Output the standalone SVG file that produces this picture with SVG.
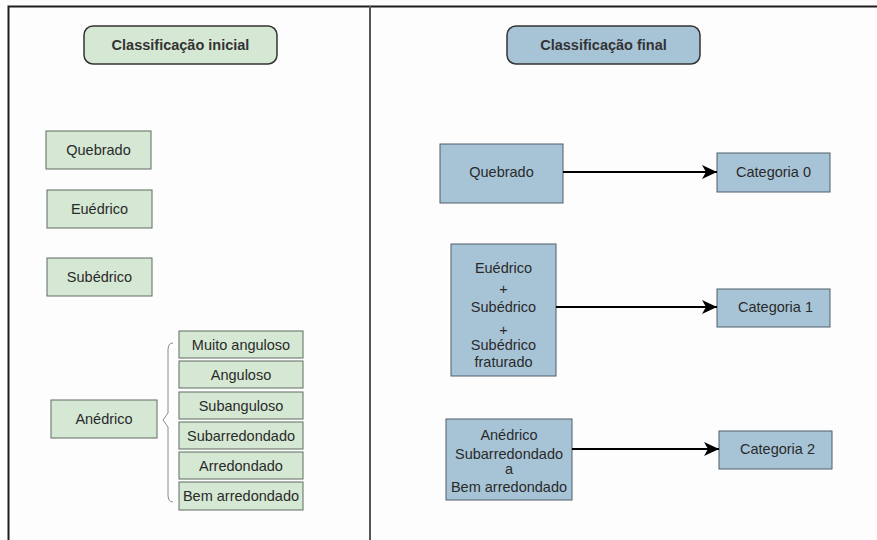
<svg xmlns="http://www.w3.org/2000/svg" width="877" height="540" viewBox="0 0 877 540">
  <defs>
    <style>
      text { font-family: "Liberation Sans", Arial, sans-serif; font-size: 14.5px; fill: #2a2a2a; text-anchor: middle; }
      .title { font-weight: bold; fill: #333; }
      .green { fill: #d5e8d4; stroke: #5f6b5f; stroke-width: 1; }
      .blue { fill: #a7c4d7; stroke: #4f5d68; stroke-width: 1; }
      .titlebox { stroke: #333; stroke-width: 1.5; }
      .frame { stroke: #1e1e1e; stroke-width: 2; fill: none; }
      .divider { stroke: #555; stroke-width: 2; fill: none; }
      .arrow { stroke: #000; stroke-width: 2; fill: none; marker-end: url(#head); }
      .brace { stroke: #8a8a8a; stroke-width: 1; fill: none; }
    </style>
    <marker id="head" markerWidth="16" markerHeight="14" refX="15" refY="7" orient="auto" markerUnits="userSpaceOnUse">
      <path d="M0,0 L15,7 L0,14 L4,7 Z" fill="#000"/>
    </marker>
  </defs>

  <rect width="877" height="540" fill="#fdfdfd"/>

  <!-- frame and column divider -->
  <g id="frame">
    <path class="frame" d="M8.5,540 V6.5 H877"/>
    <path class="divider" d="M370,6 V540"/>
  </g>

  <!-- left column: initial classification -->
  <g id="title-initial">
    <rect class="green titlebox" x="84" y="26" width="193" height="38" rx="9"/>
    <text class="title" x="180.5" y="50">Classificação inicial</text>
  </g>
  <g id="left-quebrado">
    <rect class="green" x="46" y="131" width="105" height="38"/>
    <text x="98.5" y="155">Quebrado</text>
  </g>
  <g id="left-euedrico">
    <rect class="green" x="47" y="190" width="105" height="38"/>
    <text x="99.5" y="214">Euédrico</text>
  </g>
  <g id="left-subedrico">
    <rect class="green" x="47" y="258" width="105" height="38"/>
    <text x="99.5" y="282">Subédrico</text>
  </g>
  <g id="left-anedrico">
    <rect class="green" x="51" y="400" width="106" height="38"/>
    <text x="104" y="424">Anédrico</text>
  </g>

  <!-- roundness sub-classes -->
  <g id="brace">
    <path class="brace" d="M173,343 Q168,343 168,350 V413 L163,420 L168,427 V495 Q168,502 173,502"/>
  </g>
  <g id="muito-anguloso">
    <rect class="green" x="179" y="331" width="124" height="27"/>
    <text x="241" y="349.5">Muito anguloso</text>
  </g>
  <g id="anguloso">
    <rect class="green" x="179" y="361" width="124" height="27"/>
    <text x="241" y="379.5">Anguloso</text>
  </g>
  <g id="subanguloso">
    <rect class="green" x="179" y="392" width="124" height="27"/>
    <text x="241" y="410.5">Subanguloso</text>
  </g>
  <g id="subarredondado">
    <rect class="green" x="179" y="422" width="124" height="27"/>
    <text x="241" y="440.5">Subarredondado</text>
  </g>
  <g id="arredondado">
    <rect class="green" x="179" y="452" width="124" height="27"/>
    <text x="241" y="470.5">Arredondado</text>
  </g>
  <g id="bem-arredondado">
    <rect class="green" x="179" y="482" width="124" height="28"/>
    <text x="241" y="500.5">Bem arredondado</text>
  </g>

  <!-- right column: final classification -->
  <g id="title-final">
    <rect class="blue titlebox" x="507" y="26" width="193" height="38" rx="9"/>
    <text class="title" x="603.5" y="50">Classificação final</text>
  </g>
  <g id="right-quebrado">
    <rect class="blue" x="440" y="144" width="123" height="59"/>
    <text x="501.5" y="177">Quebrado</text>
  </g>
  <g id="right-euedrico">
    <rect class="blue" x="451" y="244" width="105" height="132"/>
    <text x="503.5" y="273">Euédrico</text>
    <text x="503.5" y="294">+</text>
    <text x="503.5" y="312">Subédrico</text>
    <text x="503.5" y="335">+</text>
    <text x="503.5" y="350">Subédrico</text>
    <text x="503.5" y="367">fraturado</text>
  </g>
  <g id="right-anedrico">
    <rect class="blue" x="446" y="419" width="126" height="81"/>
    <text x="509" y="440">Anédrico</text>
    <text x="509" y="459">Subarredondado</text>
    <text x="509" y="474">a</text>
    <text x="509" y="492">Bem arredondado</text>
  </g>
  <g id="categoria-0">
    <rect class="blue" x="717" y="153" width="113" height="39"/>
    <text x="773.5" y="177">Categoria 0</text>
  </g>
  <g id="categoria-1">
    <rect class="blue" x="717" y="289" width="113" height="38"/>
    <text x="775.5" y="312">Categoria 1</text>
  </g>
  <g id="categoria-2">
    <rect class="blue" x="719" y="431" width="113" height="38"/>
    <text x="777.5" y="454">Categoria 2</text>
  </g>

  <!-- connectors -->
  <g id="connectors">
    <path class="arrow" d="M563,172 H717"/>
    <path class="arrow" d="M556,307 H717"/>
    <path class="arrow" d="M572,449 H719"/>
  </g>
</svg>
